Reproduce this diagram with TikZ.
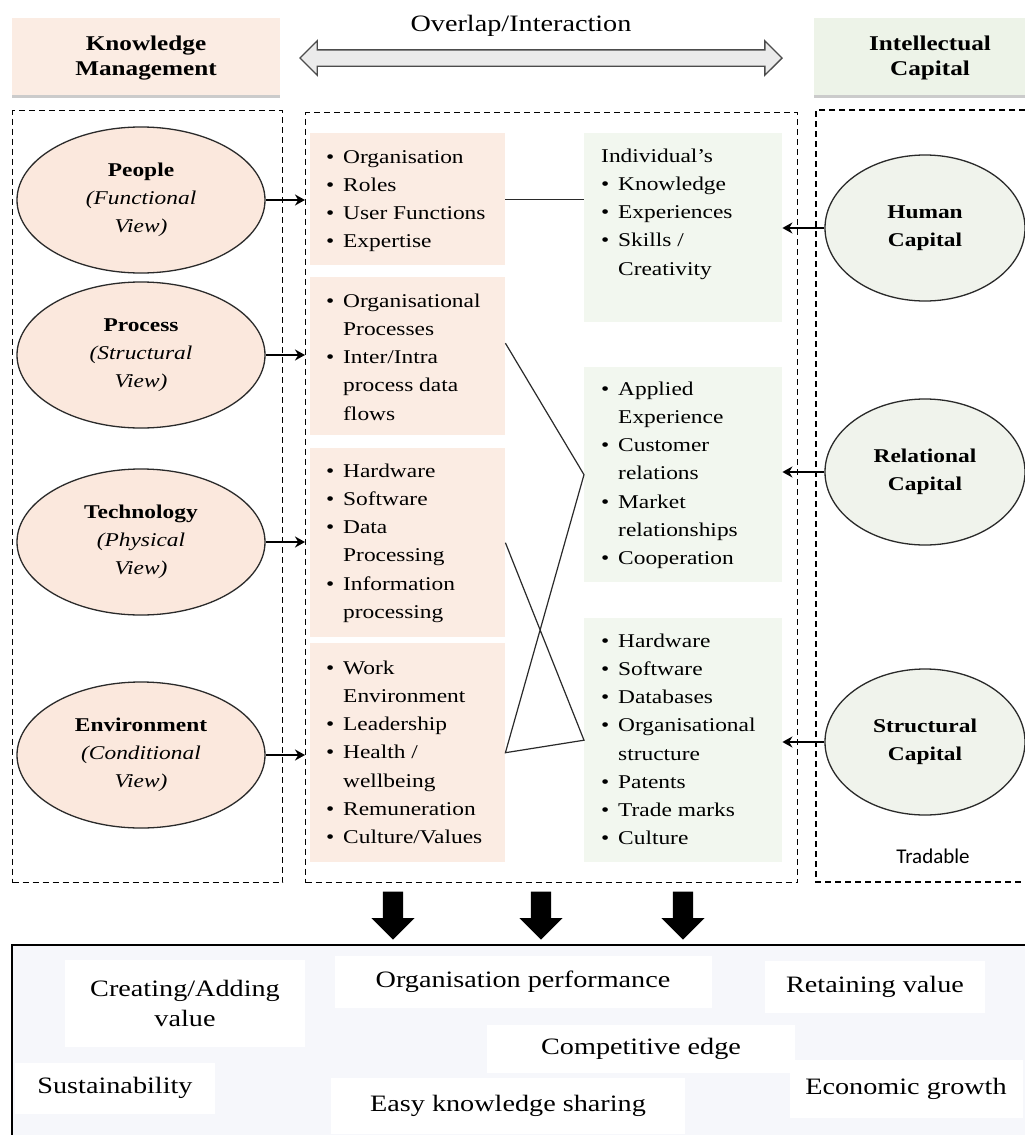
\documentclass[tikz,border=0pt]{standalone}
\usepackage{fontspec}
\setmainfont{Liberation Serif}[FakeStretch=1.2]
\newfontfamily\labelsans{Carlito}
\usetikzlibrary{shapes.geometric,shapes.arrows,shadows,arrows.meta}

\definecolor{kmfill}{HTML}{FBECE3}
\definecolor{kmell}{HTML}{FBE8DD}
\definecolor{icfill}{HTML}{EDF3E8}
\definecolor{icbox}{HTML}{F2F7EF}
\definecolor{icell}{HTML}{F0F3EC}
\definecolor{outbg}{HTML}{F6F7FB}
\definecolor{arrowgrey}{HTML}{EBEBEB}
\definecolor{edge}{HTML}{2A2A2A}

\newcommand\bodyfont{\fontsize{19.5}{28.2}\selectfont}
\newcommand\headfont{\fontsize{21}{25.5}\selectfont\bfseries}
\newcommand\bigfont{\fontsize{23.5}{30}\selectfont}
\newcommand\bul{\makebox[17pt][l]{\textbullet}}
\newcommand\ind{\hspace*{17pt}}
\newcommand\firstln{\rule{0pt}{20pt}}

\begin{document}
\begin{tikzpicture}[x=1pt,y=-1pt,
  header/.style={inner sep=0, minimum height=77, anchor=north west,
    drop shadow={shadow xshift=0pt, shadow yshift=-3pt, fill=black!45, opacity=0.45}},
  headtext/.style={font=\headfont, align=center, inner sep=0},
  dashline/.style={draw=black, line width=1.4pt, dash pattern=on 6pt off 4pt},
  panel/.style={dashline, inner sep=0, anchor=north west},
  kmnode/.style={ellipse, draw=edge, line width=1.3pt, fill=kmell, inner sep=0,
    minimum width=248, minimum height=146, font=\bodyfont, align=center},
  icnode/.style={ellipse, draw=edge, line width=1.3pt, fill=icell, inner sep=0,
    minimum width=200, minimum height=146, font=\bodyfont\bfseries, align=center},
  pbox/.style={fill=kmfill, inner sep=0, anchor=north west, minimum width=195},
  gbox/.style={fill=icbox, inner sep=0, anchor=north west, minimum width=198},
  lst/.style={font=\bodyfont, align=left, inner sep=0, anchor=north west},
  arr/.style={draw=black, line width=2.2pt, -{Stealth[length=10pt,width=11pt]}},
  link/.style={draw=edge, line width=1.2pt},
  res/.style={fill=white, inner sep=0, font=\bigfont, align=center},
  downarrow/.style={single arrow, fill=black, inner xsep=0, inner ysep=10pt,
    minimum height=48, single arrow head extend=11.5pt, rotate=-90, anchor=tip}
]
\useasboundingbox (0,0) rectangle (1025,1135);
\fill[white] (0,0) rectangle (1025,1135);

% headings and the two-way arrow between them
\node[header, fill=kmfill, minimum width=268] (kmB) at (12,18) {};
\node[headtext] (kmT) at (146,58) {Knowledge\\Management};
\node[header, fill=icfill, minimum width=211] (icB) at (814,18) {};
\node[headtext] (icT) at (930,58) {Intellectual\\Capital};
\node[font=\bigfont, inner sep=0] (ovT) at (521,26) {Overlap/Interaction};
\node[double arrow, draw=black!70, fill=arrowgrey, line width=1.4pt,
  inner xsep=0, inner ysep=7.5pt, minimum height=482,
  double arrow head extend=9pt] (ovl) at (541,58) {};

% dashed panels
\node[panel, minimum width=270, minimum height=772] (leftP) at (12,110) {};
\node[panel, minimum width=492, minimum height=770] (midP) at (305,112) {};
\draw[dashline] (1025,110) -| (816,882) -- (1025,882);

% knowledge management views
\node[kmnode] (ppl) at (141,200) {\textbf{People}\\\textit{(Functional}\\\textit{View)}};
\node[kmnode] (prc) at (141,355) {\textbf{Process}\\\textit{(Structural}\\\textit{View)}};
\node[kmnode] (tec) at (141,542) {\textbf{Technology}\\\textit{(Physical}\\\textit{View)}};
\node[kmnode] (env) at (141,755) {\textbf{Environment}\\\textit{(Conditional}\\\textit{View)}};

% intellectual capital components
\node[icnode] (hum) at (925,228) {Human\\Capital};
\node[icnode] (rel) at (925,472) {Relational\\Capital};
\node[icnode] (str) at (925,742) {Structural\\Capital};
\node[font=\labelsans\fontsize{21}{24}\selectfont, inner sep=0] (trd) at (933,856) {Tradable};

% knowledge management item lists
\node[pbox, minimum height=132] (p1) at (310,133) {};
\node[pbox, minimum height=158] (p2) at (310,277) {};
\node[pbox, minimum height=189] (p3) at (310,448) {};
\node[pbox, minimum height=219] (p4) at (310,643) {};
\node[lst] (p1t) at (326,143) {\firstln\bul Organisation\\\bul Roles\\\bul User Functions\\\bul Expertise};
\node[lst] (p2t) at (326,287) {\firstln\bul Organisational\\\ind Processes\\\bul Inter/Intra\\\ind process data\\\ind flows};
\node[lst] (p3t) at (326,457) {\firstln\bul Hardware\\\bul Software\\\bul Data\\\ind Processing\\\bul Information\\\ind processing};
\node[lst] (p4t) at (326,654) {\firstln\bul Work\\\ind Environment\\\bul Leadership\\\bul Health /\\\ind wellbeing\\\bul Remuneration\\\bul Culture/Values};

% intellectual capital item lists
\node[gbox, minimum height=189] (g1) at (584,133) {};
\node[gbox, minimum height=215] (g2) at (584,367) {};
\node[gbox, minimum height=244] (g3) at (584,618) {};
\node[lst] (g1t) at (601,142) {\firstln Individual’s\\\bul Knowledge\\\bul Experiences\\\bul Skills /\\\ind Creativity};
\node[lst] (g2t) at (601,375) {\firstln\bul Applied\\\ind Experience\\\bul Customer\\\ind relations\\\bul Market\\\ind relationships\\\bul Cooperation};
\node[lst] (g3t) at (601,627) {\firstln\bul Hardware\\\bul Software\\\bul Databases\\\bul Organisational\\\ind structure\\\bul Patents\\\bul Trade marks\\\bul Culture};

% views feed their lists, capitals feed theirs
\draw[arr, shorten >=5pt] (ppl.east) -- (ppl.east -| p1.west);
\draw[arr, shorten >=5pt] (prc.east) -- (prc.east -| p2.west);
\draw[arr, shorten >=5pt] (tec.east) -- (tec.east -| p3.west);
\draw[arr, shorten >=5pt] (env.east) -- (env.east -| p4.west);
\draw[arr] (hum.west) -- (hum.west -| g1.east);
\draw[arr] (rel.west) -- (rel.west -| g2.east);
\draw[arr] (str.west) -- (str.west -| g3.east);

% overlaps between the two sides
\draw[link] (p1.east) -- (p1.east -| g1.west);
\draw[link] ([yshift=13pt]p2.east) -- (g2.west) -- (p4.east) -- (g3.west) -- (p3.east);

% outcomes
\node[downarrow] (dn1) at (393,940) {};
\node[downarrow] (dn2) at (541,940) {};
\node[downarrow] (dn3) at (683,940) {};
\node[fill=outbg, inner sep=0, anchor=north west, minimum width=1013, minimum height=190] (outc) at (12,945) {};
\draw[line width=1.6pt] (outc.south west) -- (outc.north west) -- (outc.north east);

\node[res, minimum width=240, minimum height=87] (cav) at (185,1003) {Creating/Adding\\value};
\node[res, minimum width=377, minimum height=52] (orgp) at (523,982) {Organisation performance};
\node[res, minimum width=220, minimum height=52] (ret) at (875,987) {Retaining value};
\node[res, minimum width=308, minimum height=48] (comp) at (641,1049) {Competitive edge};
\node[res, minimum width=200, minimum height=51] (sus) at (115,1088) {Sustainability};
\node[res, minimum width=354, minimum height=56] (eks) at (508,1106) {Easy knowledge sharing};
\node[res, minimum width=233, minimum height=58] (eco) at (906,1089) {Economic growth};
\end{tikzpicture}
\end{document}
